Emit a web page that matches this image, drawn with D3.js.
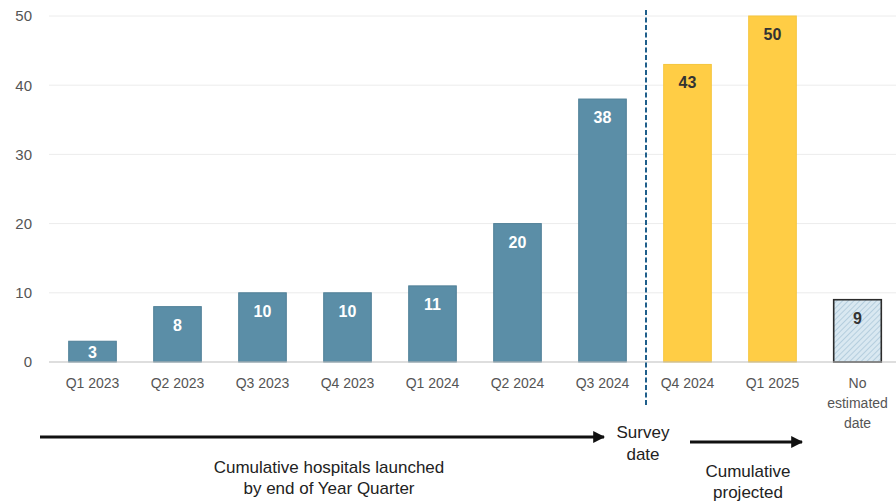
<!DOCTYPE html>
<html><head><meta charset="utf-8">
<script src="https://cdn.jsdelivr.net/npm/d3@7"></script>
<style>
html,body{margin:0;padding:0;background:#fff;}
svg{display:block;}
</style></head>
<body>
<svg id="chart" width="896" height="501"></svg>
<script>
const categories = ["Q1 2023","Q2 2023","Q3 2023","Q4 2023","Q1 2024","Q2 2024","Q3 2024","Q4 2024","Q1 2025","No estimated date"];
const values = [3, 8, 10, 10, 11, 20, 38, 43, 50, 9];
const kinds = ["launched","launched","launched","launched","launched","launched","launched","projected","projected","unknown"];
const yTicks = [0, 10, 20, 30, 40, 50];
const surveyLabel = ["Survey","date"];
const launchedLabel = ["Cumulative hospitals launched","by end of Year Quarter"];
const projectedLabel = ["Cumulative","projected"];

const svg = d3.select("#chart");
const fill = {launched:"#5b8ea7", projected:"#ffcd45", unknown:"url(#hatch)"};
const stroke = {launched:"#4f7f97", projected:"#f5c53c", unknown:"#2b2b2b"};
const labelColor = {launched:"#ffffff", projected:"#333333", unknown:"#333333"};

const defs = svg.append("defs");
const pat = defs.append("pattern").attr("id","hatch").attr("patternUnits","userSpaceOnUse")
  .attr("width",4).attr("height",4).attr("patternTransform","rotate(45)");
pat.append("rect").attr("width",4).attr("height",4).attr("fill","#d9e8f1");
pat.append("line").attr("x1",0).attr("y1",0).attr("x2",0).attr("y2",4).attr("stroke","#a9c6d8").attr("stroke-width",1.5);

const x = d3.scaleBand().domain(categories).range([50, 900]).paddingInner(0.44).paddingOuter(0.22);
const y = d3.scaleLinear().domain([0, 50]).range([362, 16]);

// gridlines
svg.append("g").selectAll("line").data(yTicks.filter(d=>d>0)).join("line")
  .attr("x1",49).attr("x2",896).attr("y1",d=>y(d)).attr("y2",d=>y(d))
  .attr("stroke","#ececec").attr("stroke-width",1);

// y axis labels
const yAxis = svg.append("g").attr("transform","translate(49,0)")
  .call(d3.axisLeft(y).tickValues(yTicks).tickSize(0).tickPadding(17));
yAxis.select(".domain").remove();
yAxis.selectAll("text").attr("font-family","Liberation Sans, Arial, sans-serif").attr("font-size",15).attr("fill","#555");

// bars
svg.append("g").selectAll("rect").data(categories).join("rect")
  .attr("x",d=>x(d)).attr("width",x.bandwidth())
  .attr("y",(d,i)=>y(values[i])).attr("height",(d,i)=>y(0)-y(values[i]))
  .attr("fill",(d,i)=>fill[kinds[i]])
  .attr("stroke",(d,i)=>stroke[kinds[i]])
  .attr("stroke-width",(d,i)=>kinds[i]==="unknown"?1.6:1);

// baseline
svg.append("line").attr("x1",49).attr("x2",896).attr("y1",y(0)).attr("y2",y(0))
  .attr("stroke","#bdbdbd").attr("stroke-width",1.2);

// value labels
svg.append("g").selectAll("text").data(categories).join("text")
  .attr("x",d=>x(d)+x.bandwidth()/2)
  .attr("y",(d,i)=>Math.min(y(values[i])+24, (y(values[i])+y(0))/2+6))
  .attr("text-anchor","middle")
  .attr("font-family","Liberation Sans, Arial, sans-serif").attr("font-weight","bold").attr("font-size",16)
  .attr("fill",(d,i)=>labelColor[kinds[i]])
  .text((d,i)=>values[i]);

// x axis labels
const xg = svg.append("g").attr("font-family","Liberation Sans, Arial, sans-serif").attr("font-size",14).attr("fill","#555");
categories.forEach(c=>{
  const words = c==="No estimated date" ? ["No","estimated","date"] : [c];
  const t = xg.append("text").attr("x",x(c)+x.bandwidth()/2).attr("y",388).attr("text-anchor","middle");
  words.forEach((w,k)=>t.append("tspan").attr("x",x(c)+x.bandwidth()/2).attr("dy",k===0?0:20).text(w));
});

// survey dashed line
const surveyX = (x("Q3 2024")+x.bandwidth()+x("Q4 2024"))/2 + 1;
svg.append("line").attr("x1",surveyX).attr("x2",surveyX).attr("y1",10).attr("y2",406)
  .attr("stroke","#1f5f8b").attr("stroke-width",2).attr("stroke-dasharray","5,2.5");

// arrows
defs.append("marker").attr("id","arrow").attr("viewBox","0 0 10 10").attr("refX",9).attr("refY",5)
  .attr("markerWidth",4).attr("markerHeight",4).attr("orient","auto")
  .append("path").attr("d","M0,0 L10,5 L0,10 Z").attr("fill","#111");
svg.append("line").attr("x1",40).attr("x2",604).attr("y1",437).attr("y2",437)
  .attr("stroke","#111").attr("stroke-width",3).attr("marker-end","url(#arrow)");
svg.append("line").attr("x1",690).attr("x2",802).attr("y1",442).attr("y2",442)
  .attr("stroke","#111").attr("stroke-width",3).attr("marker-end","url(#arrow)");

function block(lines, cx, y0, dy, fs){
  const t = svg.append("text").attr("text-anchor","middle")
    .attr("font-family","Liberation Sans Narrow, Arial Narrow, Liberation Sans, sans-serif")
    .attr("font-size",fs).attr("fill","#222");
  lines.forEach((l,k)=>t.append("tspan").attr("x",cx).attr("y",y0+k*dy).text(l));
}
block(surveyLabel, surveyX-3, 438, 22, 17);
block(launchedLabel, 329, 473, 21, 17);
block(projectedLabel, 748, 477, 21, 17);
</script>
</body></html>
